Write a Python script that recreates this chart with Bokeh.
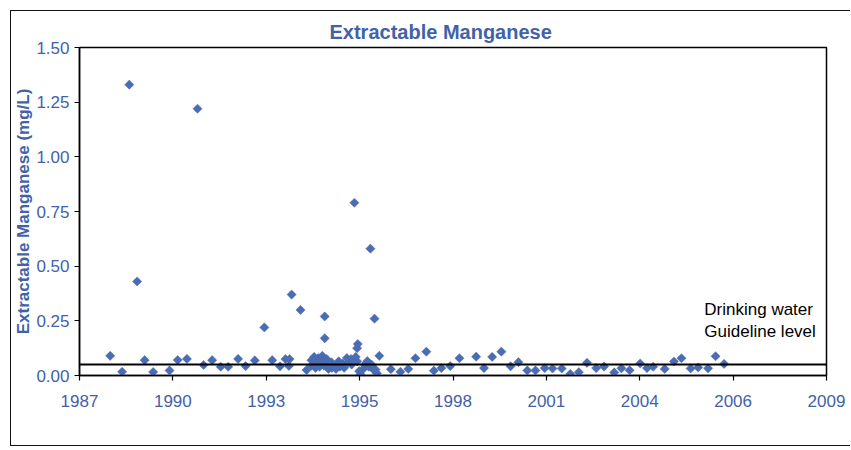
from bokeh.plotting import figure
from bokeh.models import (ColumnDataSource, Range1d, FixedTicker, CustomJSTickFormatter,
                          NumeralTickFormatter, Span, Label)
from bokeh.embed import file_html
from bokeh.resources import INLINE

# ---------------- data ----------------
tick_labels = ["1987", "1990", "1993", "1995", "1998", "2001", "2004", "2006", "2009"]
y_ticks = [0.0, 0.25, 0.5, 0.75, 1.0, 1.25, 1.5]
guideline_level = 0.05

sample_year = [
    1989.06, 1991.06, 1989.29, 1995.66, 1996.13, 1993.82, 1994.08, 1994.79, 1993.02,
    1996.25, 1994.79, 1995.76, 1995.74,
    1988.50, 1988.85, 1989.51, 1989.76, 1990.24, 1990.48, 1990.75, 1991.24, 1991.49,
    1991.74, 1991.96, 1992.25, 1992.47, 1992.74, 1993.25, 1993.48, 1993.64, 1993.76,
    1993.74, 1994.26,
    1994.40, 1994.40, 1994.48, 1994.50, 1994.52, 1994.60, 1994.62, 1994.64, 1994.72,
    1994.75, 1994.77, 1994.85, 1994.87, 1994.90, 1994.99, 1995.00, 1995.10, 1995.12,
    1995.20, 1995.24, 1995.32, 1995.36, 1995.44, 1995.48, 1995.56, 1995.58, 1995.70,
    1995.74, 1995.80, 1995.84, 1995.92, 1995.96, 1996.04, 1996.08, 1996.16, 1996.20,
    1996.28, 1996.32,
    1996.39, 1996.73, 1997.01, 1997.24, 1997.45, 1997.77, 1997.99, 1998.21, 1998.47,
    1998.74, 1999.23, 1999.46, 1999.70, 1999.97, 2000.24, 2000.47, 2000.73, 2000.97,
    2001.24, 2001.47, 2001.74, 2001.99, 2002.24, 2002.48, 2002.75, 2002.98, 2003.28,
    2003.49, 2003.73, 2004.04, 2004.24, 2004.42, 2004.76, 2005.03, 2005.25, 2005.52,
    2005.74, 2006.03, 2006.25, 2006.50,
]
manganese_mg_l = [
    1.33, 1.22, 0.43, 0.79, 0.58, 0.37, 0.30, 0.27, 0.22,
    0.26, 0.17, 0.144, 0.125,
    0.09, 0.017, 0.07, 0.016, 0.023, 0.071, 0.076, 0.048, 0.07,
    0.04, 0.04, 0.076, 0.043, 0.069, 0.07, 0.042, 0.075, 0.075,
    0.044, 0.025,
    0.07, 0.045, 0.085, 0.055, 0.035, 0.08, 0.06, 0.04, 0.09,
    0.065, 0.045, 0.075, 0.05, 0.03, 0.06, 0.035, 0.045, 0.03,
    0.065, 0.04, 0.055, 0.035, 0.08, 0.06, 0.075, 0.05, 0.085,
    0.065, 0.02, 0.005, 0.03, 0.05, 0.066, 0.04, 0.05, 0.03,
    0.027, 0.01,
    0.09, 0.029, 0.017, 0.030, 0.079, 0.109, 0.022, 0.034, 0.043,
    0.079, 0.086, 0.034, 0.085, 0.109, 0.042, 0.061, 0.023, 0.023,
    0.034, 0.032, 0.032, 0.007, 0.015, 0.058, 0.034, 0.041, 0.014,
    0.033, 0.024, 0.055, 0.034, 0.040, 0.030, 0.064, 0.079, 0.032,
    0.037, 0.033, 0.088, 0.053,
]

# axis: date ticks every 1000 days starting mid 1987
X0 = 1987.6
STEP = 1000 / 365.25
tick_pos = [X0 + i * STEP for i in range(len(tick_labels))]

BLUE_TXT = "#4262a8"
BLUE_PT = "#4a6cb3"
FONT = "Liberation Sans"

p = figure(width=839, height=434, output_backend="svg", toolbar_location=None,
           x_range=Range1d(tick_pos[0], tick_pos[-1]), y_range=Range1d(0, 1.5),
           min_border_left=66, min_border_right=25, min_border_top=36, min_border_bottom=72)
# outer chart-area border (open on the right, as in the scanned original)
p.styles = {"margin": "10px 0 0 10px",
            "border-left": "1.5px solid #111",
            "border-top": "1.5px solid #111",
            "border-bottom": "1.5px solid #111",
            "box-sizing": "content-box"}

p.title.text = "Extractable Manganese"
p.title.align = "left"
p.title.offset = 250
p.title.text_font = FONT
p.title.text_font_size = "20px"
p.title.text_font_style = "bold"
p.title.text_color = BLUE_TXT
p.title.standoff = 10

p.xgrid.visible = False
p.ygrid.visible = False
p.outline_line_color = "black"
p.outline_line_width = 1.5
p.outline_line_alpha = 1.0

for ax in (p.xaxis[0], p.yaxis[0]):
    ax.axis_line_color = "black"
    ax.axis_line_width = 1.5
    ax.major_tick_line_color = "black"
    ax.major_tick_line_width = 1.2
    ax.major_tick_out = 5
    ax.major_tick_in = 0
    ax.minor_tick_line_color = None
    ax.major_label_text_color = BLUE_TXT
    ax.major_label_text_font = FONT
    ax.major_label_text_font_size = "17px"
    ax.major_label_standoff = 5

p.xaxis.ticker = FixedTicker(ticks=tick_pos)
p.xaxis.formatter = CustomJSTickFormatter(args=dict(labels=tick_labels), code="return labels[index];")
p.xaxis.major_label_standoff = 14

p.yaxis.ticker = FixedTicker(ticks=y_ticks)
p.yaxis.formatter = NumeralTickFormatter(format="0.00")
p.yaxis.axis_label = "Extractable Manganese (mg/L)"
p.yaxis.axis_label_text_font = FONT
p.yaxis.axis_label_text_font_size = "17px"
p.yaxis.axis_label_text_font_style = "bold"
p.yaxis.axis_label_text_color = BLUE_TXT
p.yaxis.axis_label_standoff = 0

src = ColumnDataSource(dict(year=sample_year, mn=manganese_mg_l))
p.scatter(x="year", y="mn", source=src, marker="square", angle=0.785398, size=6.5,
          fill_color=BLUE_PT, line_color=BLUE_PT, line_width=0.5)

p.add_layout(Span(location=guideline_level, dimension="width", line_color="black", line_width=2))

p.add_layout(Label(x=2005.92, y=0.345, text="Drinking water\nGuideline level",
                   text_font=FONT, text_font_size="17px", text_color="black",
                   text_baseline="top", text_align="left", text_line_height=1.13))

open("out.html", "w").write(file_html(p, INLINE))
